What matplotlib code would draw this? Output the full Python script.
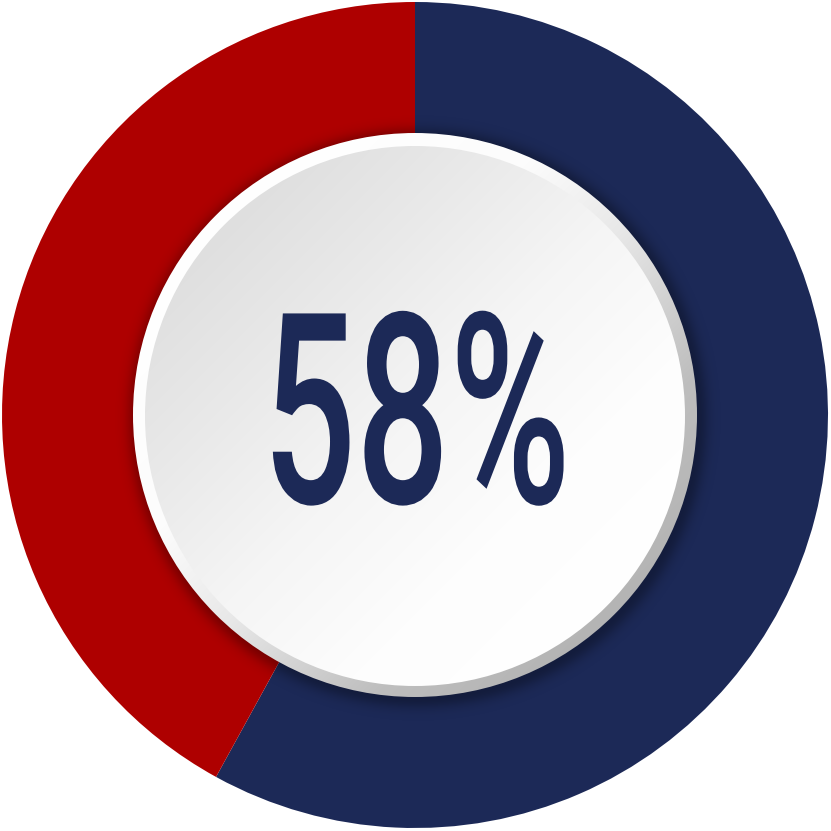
import numpy as np
import matplotlib
matplotlib.use("Agg")
import matplotlib.pyplot as plt
from matplotlib.patches import Circle
from matplotlib.patheffects import AbstractPathEffect
from matplotlib.transforms import Affine2D

# ---- data ----
labels = ["Yes", "No"]
values = [58, 42]
colors = ["#1c2957", "#ae0000"]
center_label = "58%"

W = 831
fig = plt.figure(figsize=(W / 100, W / 100), dpi=100)
ax = fig.add_axes([0, 0, 1, 1])

CX, CY = 415, 416
R_OUT, R_RING, R_IN = 413, 282, 270

ax.pie(values, colors=colors, startangle=90, counterclock=False,
       radius=R_OUT, center=(CX, CY), frame=True,
       wedgeprops=dict(linewidth=0))
ax.set_xlim(0, W)
ax.set_ylim(0, W)
ax.set_aspect("equal")
ax.axis("off")

# grid in data coords
xs = np.arange(W) + 0.5
ys = np.arange(W) + 0.5
X, Y = np.meshgrid(xs, ys[::-1])

# soft shadow around the inner disc
d = np.hypot(X - (CX + 3), Y - (CY - 3))
alpha = np.where(d > R_RING - 5, 0.30 * np.exp(-((d - (R_RING - 2)) / 11.0) ** 2), 0.0)
shadow = np.zeros((W, W, 4))
shadow[..., 3] = alpha
im = ax.imshow(shadow, extent=(0, W, 0, W), zorder=2, interpolation="bilinear")
im.set_clip_path(Circle((CX, CY), R_OUT, transform=ax.transData))

# diagonal coordinate: -1 top-left, +1 bottom-right
t = ((X - CX) - (Y - CY)) / (np.sqrt(2) * R_RING)

def grad_img(stops_t, stops_v):
    v = np.interp(t, stops_t, stops_v) / 255.0
    img = np.ones((W, W, 3))
    img[..., 0] = v
    img[..., 1] = v
    img[..., 2] = v
    return img

ring = grad_img([-1, -0.35, 0.05, 0.6, 1], [255, 252, 232, 190, 180])
im2 = ax.imshow(ring, extent=(0, W, 0, W), zorder=3, interpolation="bilinear")
im2.set_clip_path(Circle((CX, CY), R_RING, transform=ax.transData))

inner = grad_img([-1, -0.5, 0.0, 0.5, 1], [222, 233, 245, 253, 255])
im3 = ax.imshow(inner, extent=(0, W, 0, W), zorder=4, interpolation="bilinear")
im3.set_clip_path(Circle((CX, CY - 1), R_IN, transform=ax.transData))


class Squeeze(AbstractPathEffect):
    def __init__(self, sx, cx):
        super().__init__()
        self.sx = sx
        self.cx = cx

    def draw_path(self, renderer, gc, tpath, affine, rgbFace=None):
        tr = affine + Affine2D().translate(-self.cx, 0).scale(self.sx, 1).translate(self.cx, 0)
        renderer.draw_path(gc, tpath, tr, rgbFace)


TX = 416.5
txt = ax.text(TX, W - 503, center_label, ha="center", va="baseline",
              fontsize=192, fontfamily="Roboto", fontweight="medium",
              color=colors[0], zorder=5)
renderer = fig.canvas.get_renderer()
bb = txt.get_window_extent(renderer)
sx = 308.0 / bb.width
cx_disp = ax.transData.transform((TX, 0))[0]
txt.set_path_effects([Squeeze(sx, cx_disp)])

fig.savefig("out.png", dpi=100, facecolor="white")
